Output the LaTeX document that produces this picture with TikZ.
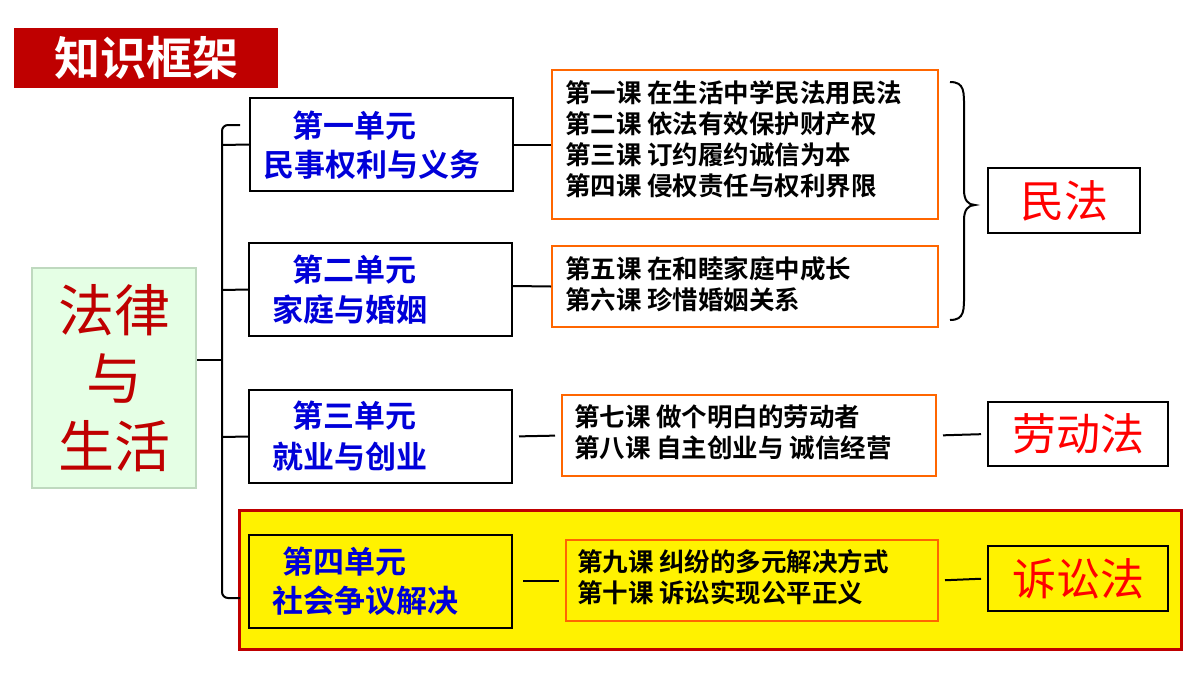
\documentclass[tikz,border=0pt]{standalone}
\usepackage{fontspec}
\newfontfamily\cjk{Noto Sans CJK SC}[BoldFont={Noto Sans CJK SC Bold}]
\begin{document}
\begin{tikzpicture}[x=1pt,y=-1pt,
  unit/.style={draw=black,line width=2pt,fill=white,inner sep=0},
  unittxt/.style={anchor=west,font=\cjk\bfseries\fontsize{31}{33}\selectfont,text=blue!85!black,inner sep=0},
  lesson/.style={draw=orange!80!red,line width=2pt,fill=white},
  lestxt/.style={anchor=north west,align=left,font=\cjk\bfseries\fontsize{25.5}{31}\selectfont,inner sep=0},
  law/.style={draw=black,line width=2pt,fill=white,font=\cjk\fontsize{44}{46}\selectfont,text=red},
  conn/.style={line width=2pt,black}]
\useasboundingbox (0,0) rectangle (1200,675);
\fill[white] (0,0) rectangle (1200,675);
% title
\node[fill=red!75!black,minimum width=264,minimum height=60,text=white,font=\cjk\bfseries\fontsize{46}{48}\selectfont] (title) at (146,58) {知识框架};
% left box
\node[draw=green!25!gray!40,line width=2pt,fill=green!10,minimum width=164,minimum height=220,align=center,text=red!75!black,font=\cjk\fontsize{56}{68}\selectfont] (main) at (114,378) {法律\\与\\生活};
% yellow highlight
\node[draw=red!75!black,line width=3pt,fill=yellow,minimum width=942,minimum height=139,inner sep=0] (hl) at (710.5,580) {};
% units
\node[unit,minimum width=263,minimum height=93] (u1) at (381.5,144.5) {};
\node[unit,minimum width=263,minimum height=93] (u2) at (380.5,289.5) {};
\node[unit,minimum width=263,minimum height=93] (u3) at (380.5,436.5) {};
\node[unit,minimum width=263,minimum height=93,fill=yellow] (u4) at (380.5,581.5) {};
\node[unittxt] (u1a) at (292,126) {第一单元};
\node[unittxt] (u1b) at (263,165) {民事权利与义务};
\node[unittxt] (u2a) at (292,270) {第二单元};
\node[unittxt] (u2b) at (272,310) {家庭与婚姻};
\node[unittxt] (u3a) at (292,416) {第三单元};
\node[unittxt] (u3b) at (272,457) {就业与创业};
\node[unittxt] (u4a) at (282,562) {第四单元};
\node[unittxt] (u4b) at (272,601) {社会争议解决};
% lessons
\node[lesson,minimum width=386,minimum height=149] (l1) at (745,144.5) {};
\node[lesson,minimum width=386,minimum height=81] (l2) at (745,286.5) {};
\node[lesson,minimum width=374,minimum height=81] (l3) at (749,435.5) {};
\node[lesson,minimum width=372,minimum height=81,fill=yellow] (l4) at (752,580.5) {};
\node[lestxt] (t1) at (565,80) {第一课 在生活中学民法用民法\\第二课 依法有效保护财产权\\第三课 订约履约诚信为本\\第四课 侵权责任与权利界限};
\node[lestxt] (t2) at (565,256) {第五课 在和睦家庭中成长\\第六课 珍惜婚姻关系};
\node[lestxt] (t3) at (574,404) {第七课 做个明白的劳动者\\第八课 自主创业与 诚信经营};
\node[lestxt] (t4) at (577,549) {第九课 纠纷的多元解决方式\\第十课 诉讼实现公平正义};
% laws
\node[law,minimum width=152,minimum height=65] (m1) at (1064,200.5) {民法};
\node[law,minimum width=180,minimum height=64] (m2) at (1078,434) {劳动法};
\node[law,minimum width=180,minimum height=65,fill=yellow] (m3) at (1078,578.5) {诉讼法};
% left brace
\coordinate (bt) at (222,125);
\coordinate (bb) at (222,598);
\draw[conn] (main.east |- 0,360) -- (222,360);
\draw[conn,rounded corners=6] (240,125) -- (222,125) -- (222,598) -- (240,598);
\draw[conn] (222,145) -- (u1.west);
\draw[conn] (222,290) -- (u2.west);
\draw[conn] (222,437) -- (u3.west);
% right brace
\draw[conn] (950,82) .. controls (965,82) and (964,92) .. (964,110) -- (964,190) .. controls (964,200) and (968,205) .. (975,205) .. controls (968,205) and (964,210) .. (964,220) -- (964,292) .. controls (964,310) and (965,320) .. (950,320);
% connectors
\draw[conn] (u1.east) -- (l1.west |- u1.east);
\draw[conn] (u2.east |- 0,286) -- (l2.west);
\draw[conn,shorten <=6,shorten >=6] (u3.east) -- (l3.west);
\draw[conn,shorten <=6,shorten >=6] (l3.east) -- (m2.west);
\draw[conn,shorten <=10,shorten >=6] (u4.east |- l4.west) -- (l4.west);
\draw[conn,shorten <=6,shorten >=6] (l4.east) -- (m3.west);
\end{tikzpicture}
\end{document}
